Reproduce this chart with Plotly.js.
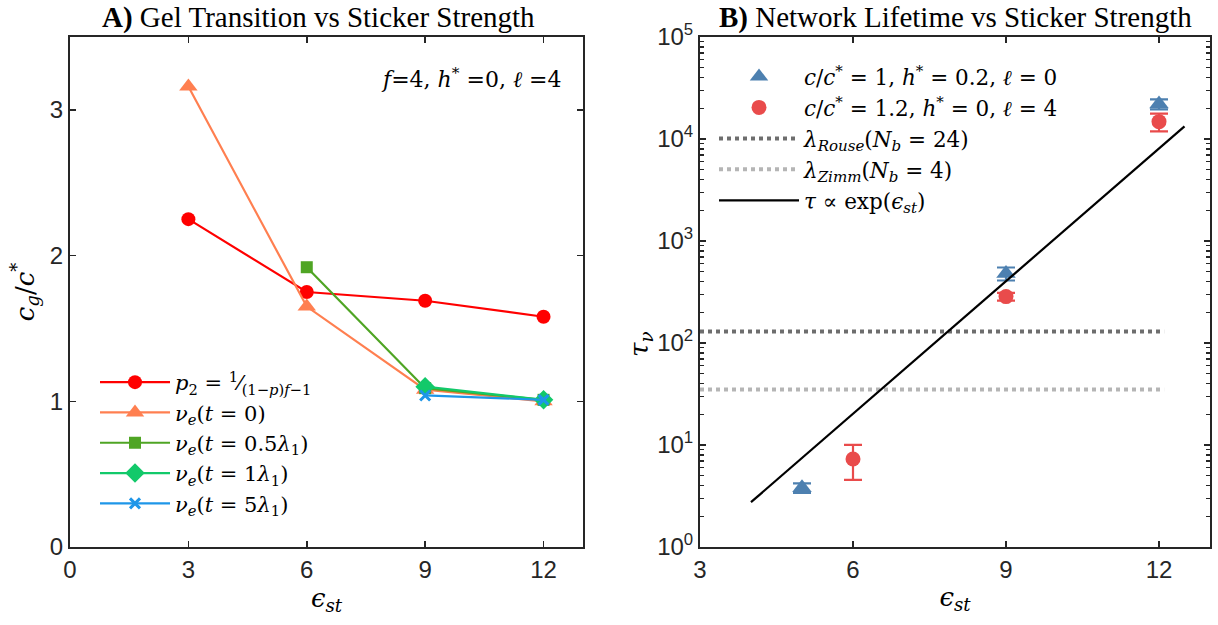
<!DOCTYPE html>
<html>
<head>
<meta charset="utf-8">
<script src="https://cdn.plot.ly/plotly-3.0.1.min.js"></script>
<style>html,body{margin:0;padding:0;background:#fff;}#chart{width:1218px;height:625px;}</style>
</head>
<body>
<div id="chart"></div>
<script>
// ---- Panel A data ----
const epsA_p2 = [3, 6, 9, 12];
const cg_p2 = [2.25, 1.75, 1.69, 1.58];
const epsA_t0 = [3, 6, 9, 12];
const cg_t0 = [3.16, 1.65, 1.08, 1.00];
const epsA_t05 = [6, 9, 12];
const cg_t05 = [1.92, 1.09, 1.01];
const epsA_t1 = [9, 12];
const cg_t1 = [1.10, 1.01];
const epsA_t5 = [9, 12];
const cg_t5 = [1.04, 1.01];
const ticksA_x = [0, 3, 6, 9, 12];
const ticksA_y = [0, 1, 2, 3];

// ---- Panel B data ----
const epsB_blue = [5, 9, 12];
const tau_blue = [3.8, 480, 22000];
const tau_blue_err = [0.4, 70, 2500];
const epsB_red = [6, 9, 12];
const tau_red = [7.3, 285, 14800];
const tau_red_err = [2.75, 25, 2900];
const rouseX = [3, 12.1];
const rouseY = [130, 130];
const zimmX = [3, 12.1];
const zimmY = [35, 35];
const fitX = [4, 12.5];
const fitY = [2.75, 13300];
const ticksB_x = [3, 6, 9, 12];
const ticksB_y = [1, 10, 100, 1000, 10000, 100000];
const ticksB_ytext = ['10<sup>0</sup>', '10<sup>1</sup>', '10<sup>2</sup>', '10<sup>3</sup>', '10<sup>4</sup>', '10<sup>5</sup>'];

const W = 1218, H = 625;
const px = v => v / W;
const py = v => 1 - v / H;

const serif = "Liberation Serif, DejaVu Serif, serif";
const mathSerif = "DejaVu Serif, Liberation Serif, serif";
const sans = "Liberation Sans, Arial, sans-serif";
const axisCol = "#262626";

const traces = [
  {x: epsA_p2, y: cg_p2, mode: 'lines+markers', name: '<i>p</i><sub>2</sub> = <sup>1</sup>⁄<sub>(1−<i>p</i>)<i>f</i>−1</sub>',
   line: {color: '#FF0000', width: 2.2}, marker: {symbol: 'circle', size: 14, color: '#FF0000'}, xaxis: 'x', yaxis: 'y', legend: 'legend'},
  {x: epsA_t0, y: cg_t0, mode: 'lines+markers', name: '<i>ν</i><sub><i>e</i></sub>(<i>t</i> = 0)',
   line: {color: '#FF7F50', width: 2.2}, marker: {symbol: 'triangle-up', size: 16, color: '#FF7F50'}, xaxis: 'x', yaxis: 'y', legend: 'legend'},
  {x: epsA_t05, y: cg_t05, mode: 'lines+markers', name: '<i>ν</i><sub><i>e</i></sub>(<i>t</i> = 0.5<i>λ</i><sub>1</sub>)',
   line: {color: '#4FA524', width: 2.2}, marker: {symbol: 'square', size: 12, color: '#4FA524'}, xaxis: 'x', yaxis: 'y', legend: 'legend'},
  {x: epsA_t1, y: cg_t1, mode: 'lines+markers', name: '<i>ν</i><sub><i>e</i></sub>(<i>t</i> = 1<i>λ</i><sub>1</sub>)',
   line: {color: '#12C96A', width: 2.2}, marker: {symbol: 'diamond', size: 15, color: '#12C96A'}, xaxis: 'x', yaxis: 'y', legend: 'legend'},
  {x: epsA_t5, y: cg_t5, mode: 'lines+markers', name: '<i>ν</i><sub><i>e</i></sub>(<i>t</i> = 5<i>λ</i><sub>1</sub>)',
   line: {color: '#1E96E8', width: 2.2}, marker: {symbol: 'x-thin', size: 10, color: '#1E96E8', line: {width: 3, color: '#1E96E8'}}, xaxis: 'x', yaxis: 'y', legend: 'legend'},

  {x: epsB_blue, y: tau_blue, mode: 'markers', name: '<i>c</i>/<i>c</i><sup>*</sup> = 1, <i>h</i><sup>*</sup> = 0.2, <i>ℓ</i> = 0',
   marker: {symbol: 'triangle-up', size: 17, color: '#4D80B0'},
   error_y: {type: 'data', array: tau_blue_err, color: '#4D80B0', thickness: 2.2, width: 9},
   xaxis: 'x2', yaxis: 'y2', legend: 'legend2'},
  {x: epsB_red, y: tau_red, mode: 'markers', name: '<i>c</i>/<i>c</i><sup>*</sup> = 1.2, <i>h</i><sup>*</sup> = 0, <i>ℓ</i> = 4',
   marker: {symbol: 'circle', size: 15, color: '#E94B4B'},
   error_y: {type: 'data', array: tau_red_err, color: '#E94B4B', thickness: 2.2, width: 9},
   xaxis: 'x2', yaxis: 'y2', legend: 'legend2'},
  {x: rouseX, y: rouseY, mode: 'lines', name: '<i>λ</i><sub><i>Rouse</i></sub>(<i>N</i><sub><i>b</i></sub> = 24)',
   line: {color: '#6E6E6E', width: 4, dash: 'dot'}, xaxis: 'x2', yaxis: 'y2', legend: 'legend2'},
  {x: zimmX, y: zimmY, mode: 'lines', name: '<i>λ</i><sub><i>Zimm</i></sub>(<i>N</i><sub><i>b</i></sub> = 4)',
   line: {color: '#B5B5B5', width: 4, dash: 'dot'}, xaxis: 'x2', yaxis: 'y2', legend: 'legend2'},
  {x: fitX, y: fitY, mode: 'lines', name: '<i>τ</i> ∝ exp(<i>ϵ</i><sub><i>st</i></sub>)',
   line: {color: '#000000', width: 2.2}, xaxis: 'x2', yaxis: 'y2', legend: 'legend2'}
];

const axBase = {
  showgrid: false, zeroline: false, showline: true, linecolor: axisCol, linewidth: 2,
  mirror: 'ticks', ticks: 'inside', ticklen: 6, tickwidth: 1.5, tickcolor: axisCol,
  tickfont: {family: sans, size: 24, color: axisCol}, automargin: false
};
const axTitleFont = {family: mathSerif, size: 26, color: '#000'};

const layout = {
  width: W, height: H,
  margin: {l: 0, r: 0, t: 0, b: 0},
  paper_bgcolor: '#fff', plot_bgcolor: '#fff',
  font: {family: serif, color: '#000'},
  showlegend: true,
  xaxis: Object.assign({}, axBase, {domain: [px(70), px(583)], range: [0, 13], tickvals: ticksA_x, anchor: 'y',
    title: {text: '<i>ϵ</i><sub><i>st</i></sub>', font: axTitleFont, standoff: 6}}),
  yaxis: Object.assign({}, axBase, {domain: [1 - 547 / H, 1 - 37 / H], range: [0, 3.5], tickvals: ticksA_y, anchor: 'x',
    title: {text: '<i>c</i><sub><i>g</i></sub>/<i>c</i><sup>*</sup>', font: axTitleFont, standoff: 8}}),
  xaxis2: Object.assign({}, axBase, {domain: [px(700), px(1210)], range: [3, 13], tickvals: ticksB_x, anchor: 'y2',
    title: {text: '<i>ϵ</i><sub><i>st</i></sub>', font: axTitleFont, standoff: 6}}),
  yaxis2: Object.assign({}, axBase, {domain: [1 - 547 / H, 1 - 37 / H], type: 'log', range: [0, 5], anchor: 'x2',
    tickvals: ticksB_y, ticktext: ticksB_ytext,
    minor: {ticks: 'inside', ticklen: 4, tickcolor: axisCol, dtick: 'D1', showgrid: false}}),
  legend: {x: px(95), y: py(362), xanchor: 'left', yanchor: 'top', bgcolor: 'rgba(0,0,0,0)',
    font: {family: mathSerif, size: 21, color: '#000'}, itemwidth: 70},
  legend2: {x: px(714), y: py(56), xanchor: 'left', yanchor: 'top', bgcolor: 'rgba(0,0,0,0)',
    font: {family: mathSerif, size: 21.5, color: '#000'}, itemwidth: 80},
  annotations: [
    {text: '<b>A)</b> Gel Transition vs Sticker Strength', xref: 'paper', yref: 'paper', x: px(318), y: py(17),
     xanchor: 'center', yanchor: 'middle', showarrow: false, font: {family: serif, size: 29, color: '#000'}},
    {text: '<b>B)</b> Network Lifetime vs Sticker Strength', xref: 'paper', yref: 'paper', x: px(955), y: py(17),
     xanchor: 'center', yanchor: 'middle', showarrow: false, font: {family: serif, size: 29, color: '#000'}},
    {text: '<i>f</i>=4, <i>h</i><sup>*</sup> =0, <i>ℓ</i> =4', xref: 'paper', yref: 'paper', x: px(563), y: py(78),
     xanchor: 'right', yanchor: 'middle', showarrow: false, font: {family: mathSerif, size: 22, color: '#000'}},
    {text: '<i>τ</i><sub><i>ν</i></sub>', xref: 'paper', yref: 'paper', x: px(640), y: py(345), textangle: -90,
     xanchor: 'center', yanchor: 'middle', showarrow: false, font: axTitleFont}
  ]
};

Plotly.newPlot('chart', traces, layout, {displayModeBar: false, staticPlot: true});
</script>
</body>
</html>
